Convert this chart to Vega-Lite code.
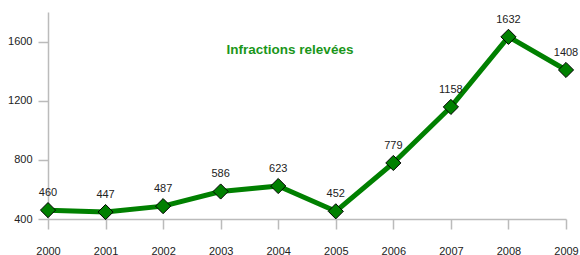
{
  "$schema": "https://vega.github.io/schema/vega-lite/v6.json",
  "width": 518,
  "height": 207,
  "autosize": {"type": "none"},
  "padding": {"left": 48, "top": 12, "right": 14, "bottom": 36},
  "background": "white",
  "config": {"view": {"stroke": null}, "font": "Liberation Sans"},
  "title": {
    "text": "Infractions relevées",
    "color": "#1a961a",
    "fontSize": 13.5,
    "fontWeight": "bold",
    "font": "Liberation Sans",
    "anchor": "middle",
    "dx": -17,
    "dy": 48
  },
  "data": {
    "values": [
      {"year": "2000", "value": 460},
      {"year": "2001", "value": 447},
      {"year": "2002", "value": 487},
      {"year": "2003", "value": 586},
      {"year": "2004", "value": 623},
      {"year": "2005", "value": 452},
      {"year": "2006", "value": 779},
      {"year": "2007", "value": 1158},
      {"year": "2008", "value": 1632},
      {"year": "2009", "value": 1408}
    ]
  },
  "encoding": {
    "x": {
      "field": "year",
      "type": "ordinal",
      "scale": {"type": "point", "padding": 0},
      "axis": {
        "title": null,
        "labelAngle": 0,
        "domainColor": "#bbbbbb",
        "domainWidth": 1.5,
        "tickColor": "#bbbbbb",
        "tickWidth": 1.5,
        "tickSize": 10,
        "labelPadding": 16,
        "labelFontSize": 11,
        "labelColor": "#222222",
        "labelFont": "Liberation Sans"
      }
    },
    "y": {
      "field": "value",
      "type": "quantitative",
      "scale": {"domain": [400, 1800], "nice": false, "zero": false},
      "axis": {
        "title": null,
        "values": [400, 800, 1200, 1600],
        "format": "d",
        "grid": false,
        "domainColor": "#bbbbbb",
        "domainWidth": 1.5,
        "tickColor": "#bbbbbb",
        "tickWidth": 1.5,
        "tickSize": 10,
        "labelPadding": 6,
        "labelFontSize": 11,
        "labelColor": "#222222",
        "labelFont": "Liberation Sans"
      }
    }
  },
  "layer": [
    {"mark": {"type": "line", "color": "#008000", "strokeWidth": 5, "strokeJoin": "round"}},
    {"mark": {"type": "point", "shape": "diamond", "size": 230, "filled": true, "fill": "#008000", "stroke": "#000000", "strokeWidth": 1, "opacity": 1}},
    {"mark": {"type": "text", "dy": -17, "fontSize": 11, "color": "#222222", "font": "Liberation Sans"}, "encoding": {"text": {"field": "value", "type": "quantitative", "format": "d"}}}
  ]
}
